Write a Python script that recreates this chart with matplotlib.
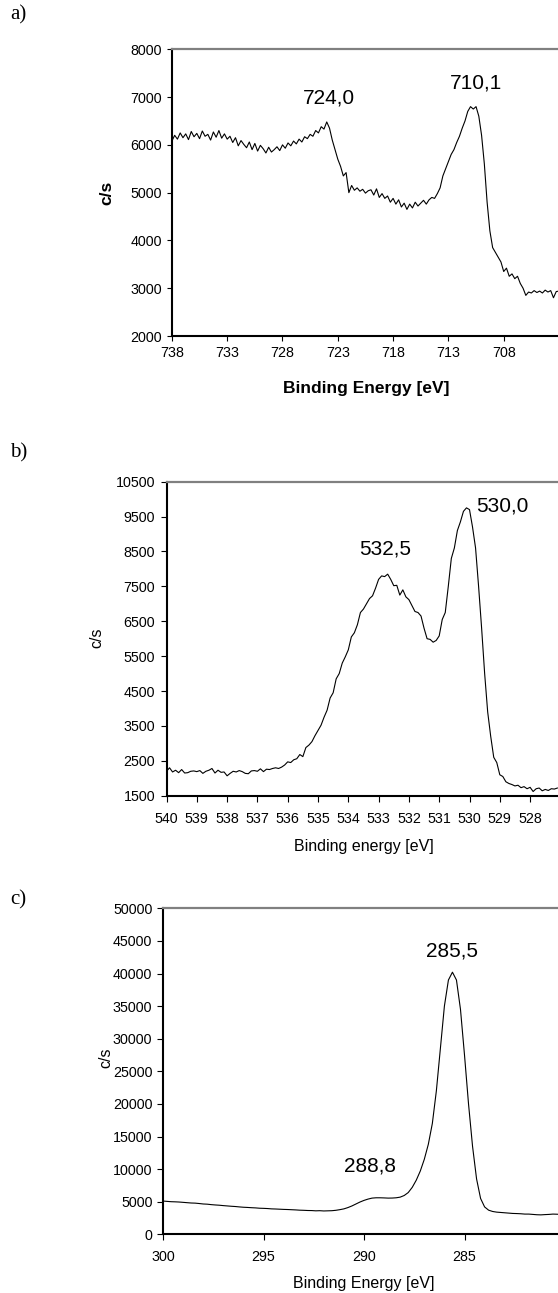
import numpy as np
import matplotlib
matplotlib.use("Agg")
import matplotlib.pyplot as plt

plt.rcParams['font.family'] = ['Liberation Sans', 'DejaVu Sans']

#------------------------------------------------------------------
# spectrum a) Fe 2p : 738 -> 703 eV, step 0.25 eV
fe_start, fe_step = 738.0, 0.25
fe_cps = [6080, 6200, 6120, 6250, 6150, 6230, 6110, 6280, 6170, 6240, 6130,
          6290, 6180, 6220, 6100, 6270, 6160, 6300, 6140, 6230, 6120,
          6180, 6050, 6150, 5980, 6090, 6010, 5940, 6060, 5900, 6030, 5870,
          5990, 5920, 5830, 5950, 5850,
          5900, 5960, 5880, 6000, 5930, 6040, 5980, 6080, 6020, 6120, 6060,
          6170, 6130, 6220, 6180, 6300, 6250, 6380, 6330, 6480,
          6350, 6100, 5900, 5700, 5550, 5350, 5420, 5000,
          5150, 5050, 5100, 5030, 5070, 4990, 5040, 5060, 4950, 5080, 4900,
          4980, 4880, 4930, 4800, 4880, 4760, 4850, 4700, 4780,
          4650, 4760, 4680, 4800, 4720, 4780, 4840, 4760, 4850, 4900, 4880, 4980,
          5100, 5350, 5500, 5650, 5800, 5900, 6050, 6180, 6350, 6500, 6700, 6800,
          6750, 6800, 6600, 6200, 5600, 4800, 4200, 3850,
          3750, 3650, 3550, 3350, 3420, 3250, 3300, 3200, 3250, 3100, 3000, 2850,
          2920, 2900, 2950, 2910, 2940, 2900, 2960, 2920, 2950, 2800, 2930, 2940]
fe_ticks = [738, 733, 728, 723, 718, 713, 708]
fe_peaks = ['724,0', '710,1']
fe_peak_pos = [(723.8, 6990), (710.5, 7300)]

# spectrum b) O 1s : 540 -> 527 eV, step 0.1 eV
o_start, o_step = 540.0, 0.1
o_cps = [2200, 2300, 2180, 2230, 2160, 2250, 2150, 2160, 2200, 2210,
         2190, 2220, 2140, 2200, 2230, 2280, 2150, 2230, 2170, 2180,
         2070, 2140, 2200, 2180, 2220, 2190, 2140, 2130, 2210, 2220,
         2200, 2270, 2190, 2260, 2250, 2280, 2300, 2280, 2320, 2380,
         2470, 2450, 2530, 2560, 2680, 2620, 2880, 2950, 3050, 3220,
         3370, 3520, 3750, 3950, 4300, 4450, 4850, 5000, 5300, 5480,
         5680, 6050, 6170, 6400, 6750, 6850, 7000, 7150, 7230, 7450,
         7700, 7800, 7780, 7850, 7700, 7520, 7530, 7250, 7400, 7200,
         7120, 6950, 6780, 6750, 6650, 6300, 6000, 5980, 5900, 5950,
         6080, 6550, 6750, 7500, 8300, 8600, 9100, 9350, 9650, 9750,
         9700, 9200, 8600, 7500, 6300, 5000, 3900, 3200, 2600, 2450,
         2100, 2050, 1900, 1850, 1820, 1780, 1800, 1730, 1760, 1700,
         1740, 1620, 1700, 1720, 1640, 1680, 1650, 1700, 1690, 1720]
o_ticks = [540, 539, 538, 537, 536, 535, 534, 533, 532, 531, 530, 529, 528]
o_peaks = ['532,5', '530,0']
o_peak_pos = [(532.8, 8570), (528.9, 9800)]

# spectrum c) C 1s : 300 -> 280.2 eV, step 0.2 eV
c_start, c_step = 300.0, 0.2
c_cps = [5100, 5050, 5000, 4980, 4950, 4900, 4850, 4800, 4780, 4720,
         4650, 4620, 4550, 4500, 4460, 4400, 4350, 4300, 4260, 4200,
         4150, 4120, 4080, 4050, 4000, 3980, 3950, 3900, 3880, 3850,
         3820, 3800, 3770, 3740, 3700, 3680, 3650, 3640, 3600, 3620,
         3580, 3600, 3620, 3680, 3780, 3900, 4100, 4350, 4650, 4950,
         5200, 5400, 5550, 5600, 5600, 5580, 5550, 5560, 5600, 5700,
         5950, 6400, 7200, 8300, 9700, 11500, 13800, 17000, 22000, 28500,
         35000, 39000, 40200, 39000, 34500, 27500, 20000, 13500, 8500, 5500,
         4200, 3700, 3500, 3400, 3350, 3300, 3250, 3200, 3180, 3150,
         3100, 3100, 3050, 3000, 2980, 3020, 3050, 3100, 3080, 3050]
c_ticks = [300, 295, 290, 285]
c_peaks = ['285,5', '288,8']
c_peak_pos = [(285.6, 43500), (289.7, 10500)]

W, H = 558.0, 1293.0

def px_rect(left, top, bottom, width):
    return [left / W, 1 - bottom / H, width / W, (bottom - top) / H]

def style_axes(ax, xpad, ypad, ticklen):
    for s in ['left', 'bottom']:
        ax.spines[s].set_color('black')
        ax.spines[s].set_linewidth(1.5)
    ax.spines['top'].set_color('#808080')
    ax.spines['top'].set_linewidth(1.6)
    ax.spines['right'].set_visible(False)
    ax.tick_params(direction='out', length=ticklen, width=0.8, labelsize=10.3,
                   top=False, right=False)
    ax.tick_params(axis='x', pad=xpad)
    ax.tick_params(axis='y', pad=ypad)

fig = plt.figure(figsize=(W / 100, H / 100), dpi=100)

# ---- a)
ax1 = fig.add_axes(px_rect(171.9, 49.3, 336.0, 442.4))
e1 = fe_start - fe_step * np.arange(len(fe_cps))
ax1.plot(e1, fe_cps, color='black', lw=0.8)
ax1.set_xlim(738, 698)
ax1.set_ylim(2000, 8000)
ax1.set_xticks(fe_ticks)
ax1.set_yticks(np.arange(2000, 8001, 1000))
style_axes(ax1, 3.6, 3.6, 3.6)
for lab, (x, y) in zip(fe_peaks, fe_peak_pos):
    ax1.text(x, y, lab, ha='center', va='center', fontsize=15)

# ---- b)
ax2 = fig.add_axes(px_rect(166.5, 481.7, 795.7, 424.2))
e2 = o_start - o_step * np.arange(len(o_cps))
ax2.plot(e2, o_cps, color='black', lw=0.8)
ax2.set_xlim(540, 526)
ax2.set_ylim(1500, 10500)
ax2.set_xticks(o_ticks)
ax2.set_yticks(np.arange(1500, 10501, 1000))
style_axes(ax2, 7.5, 3.6, 4.5)
for lab, (x, y) in zip(o_peaks, o_peak_pos):
    ax2.text(x, y, lab, ha='center', va='center', fontsize=15)

# ---- c)
ax3 = fig.add_axes(px_rect(163.0, 908.3, 1234.3, 442.2))
e3 = c_start - c_step * np.arange(len(c_cps))
ax3.plot(e3, c_cps, color='black', lw=0.8)
ax3.set_xlim(300, 278)
ax3.set_ylim(0, 50000)
ax3.set_xticks(c_ticks)
ax3.set_yticks(np.arange(0, 50001, 5000))
style_axes(ax3, 7.0, 3.6, 4.0)
for lab, (x, y) in zip(c_peaks, c_peak_pos):
    ax3.text(x, y, lab, ha='center', va='center', fontsize=15)

# panel letters and axis titles
def ftext(x, y, s, **kw):
    fig.text(x / W, 1 - y / H, s, **kw)

serif = ['Liberation Serif', 'DejaVu Serif']
ftext(10, 15, 'a)', family=serif, fontsize=15, va='center')
ftext(10, 453, 'b)', family=serif, fontsize=15, va='center')
ftext(10, 900, 'c)', family=serif, fontsize=15, va='center')

ftext(366.7, 388, 'Binding Energy [eV]', fontsize=12.5, fontweight='bold',
      ha='center', va='center')
ftext(106.8, 192.7, 'c/s', fontsize=12.5, fontweight='bold', rotation=90,
      ha='center', va='center')

ftext(364, 846, 'Binding energy [eV]', fontsize=11.5, ha='center', va='center')
ftext(96.8, 638, 'c/s', fontsize=11.5, rotation=90, ha='center', va='center')

ftext(364, 1283.3, 'Binding Energy [eV]', fontsize=11.5, ha='center', va='center')
ftext(106, 1058, 'c/s', fontsize=11.5, rotation=90, ha='center', va='center')

plt.savefig('out.png', dpi=100)
plt.close()
